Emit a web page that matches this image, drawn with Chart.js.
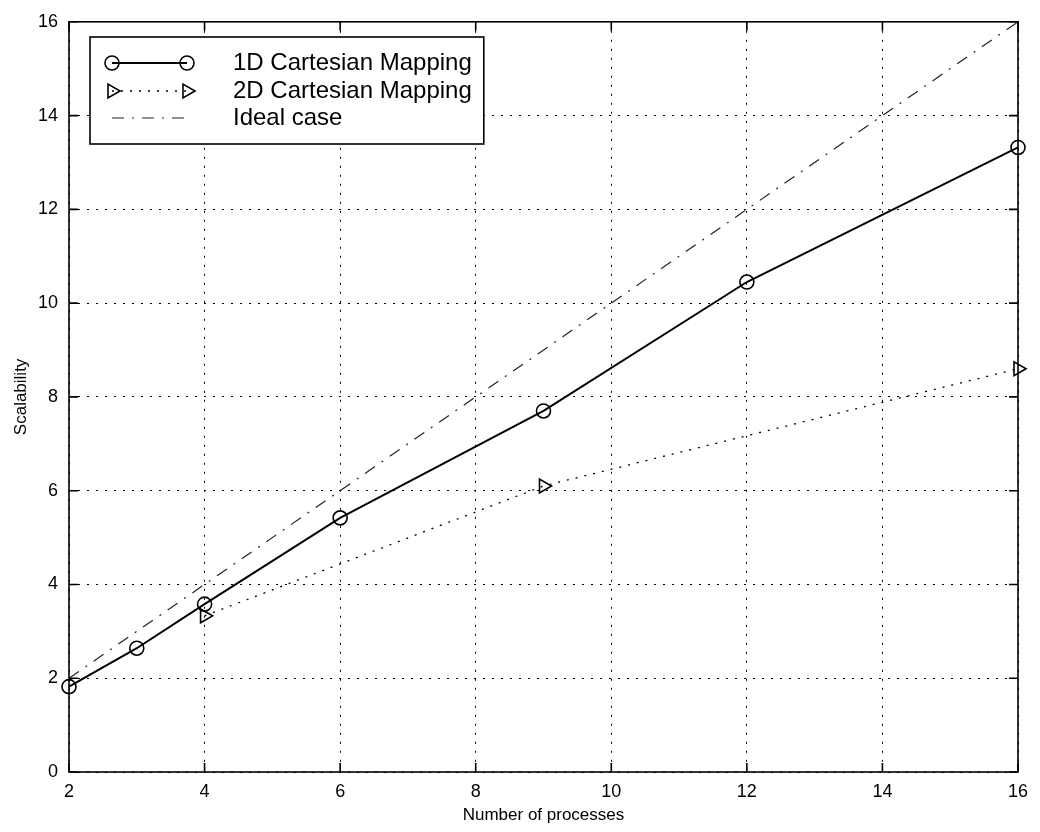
<!DOCTYPE html>
<html>
<head>
<meta charset="utf-8">
<script src="https://cdn.jsdelivr.net/npm/chart.js@4.4.1/dist/chart.umd.min.js"></script>
<style>
  html, body { margin: 0; padding: 0; background: #fff; }
  #wrap { width: 1040px; height: 832px; }
</style>
</head>
<body>
<div id="wrap"><canvas id="c" width="1040" height="832"></canvas></div>
<script>
// Process counts and measured scalability
const procs1D = [2, 3, 4, 6, 9, 12, 16];
const scal1D  = [1.82, 2.64, 3.58, 5.42, 7.70, 10.45, 13.32];

const procs2D = [4, 9, 16];
const scal2D  = [3.33, 6.10, 8.60];

const procsIdeal = [2, 16];
const scalIdeal  = [2, 16];

const xTicks = [2, 4, 6, 8, 10, 12, 14, 16];
const yTicks = [0, 2, 4, 6, 8, 10, 12, 14, 16];

const seriesNames = ['1D Cartesian Mapping', '2D Cartesian Mapping', 'Ideal case'];

const FONT = '"Liberation Sans", Arial, Helvetica, sans-serif';

function pts(xs, ys) { return xs.map((x, i) => ({ x: x, y: ys[i] })); }

// Frame, inward tick marks on all four sides, and an in-plot legend box
const framePlugin = {
  id: 'frame',
  afterDatasetsDraw(chart) {
    const ctx = chart.ctx;
    const a = chart.chartArea;
    const xs = chart.scales.x, ys = chart.scales.y;
    const tl = 9;
    ctx.save();
    ctx.strokeStyle = '#000';
    ctx.lineWidth = 1.6;
    ctx.setLineDash([]);
    ctx.strokeRect(a.left, a.top, a.right - a.left, a.bottom - a.top);
    ctx.beginPath();
    xTicks.forEach(v => {
      const px = xs.getPixelForValue(v);
      ctx.moveTo(px, a.bottom); ctx.lineTo(px, a.bottom - tl);
      ctx.moveTo(px, a.top); ctx.lineTo(px, a.top + tl);
    });
    yTicks.forEach(v => {
      const py = ys.getPixelForValue(v);
      ctx.moveTo(a.left, py); ctx.lineTo(a.left + tl, py);
      ctx.moveTo(a.right, py); ctx.lineTo(a.right - tl, py);
    });
    ctx.stroke();

    // legend
    const ds = chart.data.datasets;
    const bx = 90, by = 37, rowY = [63, 91, 118];
    const x1 = 112, x2 = 187, tx = 233;
    ctx.font = '24px ' + FONT;
    let maxW = 0;
    ds.forEach(d => { maxW = Math.max(maxW, ctx.measureText(d.label).width); });
    const bw = tx + maxW + 12 - bx, bh = 107;
    ctx.fillStyle = '#fff';
    ctx.fillRect(bx, by, bw, bh);
    ctx.lineWidth = 1.6;
    ctx.strokeStyle = '#000';
    ctx.strokeRect(bx, by, bw, bh);
    ds.forEach((d, i) => {
      const y = rowY[i];
      ctx.save();
      ctx.strokeStyle = d.borderColor;
      ctx.lineWidth = d.borderWidth;
      ctx.setLineDash(d.borderDash || []);
      ctx.beginPath();
      ctx.moveTo(x1, y); ctx.lineTo(x2, y);
      ctx.stroke();
      ctx.setLineDash([]);
      if (d.pointRadius > 0) {
        const opts = { pointStyle: d.pointStyle, rotation: d.pointRotation || 0,
                       radius: d.pointRadius, borderWidth: d.pointBorderWidth };
        ctx.strokeStyle = d.pointBorderColor;
        ctx.fillStyle = 'rgba(0,0,0,0)';
        ctx.lineWidth = d.pointBorderWidth;
        Chart.helpers.drawPoint(ctx, opts, x1, y);
        Chart.helpers.drawPoint(ctx, opts, x2, y);
      }
      ctx.restore();
      ctx.fillStyle = '#000';
      ctx.textBaseline = 'middle';
      ctx.textAlign = 'left';
      ctx.fillText(d.label, tx, y);
    });
    ctx.restore();
  }
};

new Chart(document.getElementById('c'), {
  type: 'scatter',
  data: {
    datasets: [
      {
        label: seriesNames[0],
        data: pts(procs1D, scal1D),
        showLine: true,
        clip: false,
        borderColor: '#000',
        borderWidth: 2,
        pointStyle: 'circle',
        pointRadius: 7,
        pointBorderColor: '#000',
        pointBorderWidth: 1.6,
        pointBackgroundColor: 'rgba(0,0,0,0)'
      },
      {
        label: seriesNames[1],
        data: pts(procs2D, scal2D),
        showLine: true,
        clip: false,
        borderColor: '#000',
        borderWidth: 1.3,
        borderDash: [2, 7],
        pointStyle: 'triangle',
        pointRotation: 90,
        pointRadius: 8,
        pointBorderColor: '#000',
        pointBorderWidth: 1.6,
        pointBackgroundColor: 'rgba(0,0,0,0)'
      },
      {
        label: seriesNames[2],
        data: pts(procsIdeal, scalIdeal),
        showLine: true,
        clip: false,
        borderColor: '#222',
        borderWidth: 1.2,
        borderDash: [12, 8, 2, 8],
        pointRadius: 0
      }
    ]
  },
  options: {
    responsive: false,
    animation: false,
    layout: { padding: { top: 19, right: 22, bottom: 0, left: 0 } },
    plugins: { legend: { display: false }, tooltip: { enabled: false } },
    scales: {
      x: {
        type: 'linear',
        min: 2, max: 16,
        afterBuildTicks(s) { s.ticks = xTicks.map(v => ({ value: v })); },
        afterFit(s) { s.height = 60; },
        ticks: { color: '#000', font: { family: FONT, size: 18 }, padding: 9, maxRotation: 0 },
        grid: { color: '#000', lineWidth: 1, drawTicks: false },
        border: { display: false, dash: [2, 7] },
        title: { display: true, text: 'Number of processes', color: '#000',
                 font: { family: FONT, size: 17 }, padding: { top: 0, bottom: 6 } }
      },
      y: {
        type: 'linear',
        min: 0, max: 16,
        afterBuildTicks(s) { s.ticks = yTicks.map(v => ({ value: v })); },
        afterFit(s) { s.width = 69; },
        ticks: { color: '#000', font: { family: FONT, size: 18 }, padding: 11 },
        grid: { color: '#000', lineWidth: 1, drawTicks: false },
        border: { display: false, dash: [2, 7] },
        title: { display: true, text: 'Scalability', color: '#000',
                 font: { family: FONT, size: 17 }, padding: { top: 11, bottom: 0 } }
      }
    }
  },
  plugins: [framePlugin]
});
</script>
</body>
</html>
